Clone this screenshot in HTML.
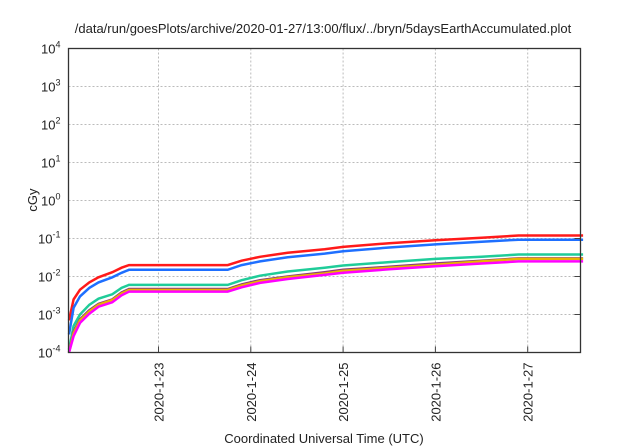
<!DOCTYPE html>
<html><head><meta charset="utf-8"><style>
body{margin:0;background:#fff}
svg{display:block;font-family:"Liberation Sans",sans-serif}
</style></head><body>
<svg id="c" width="640" height="448">
<text x="323" y="33" font-size="13" text-anchor="middle" fill="#222">/data/run/goesPlots/archive/2020-01-27/13:00/flux/../bryn/5daysEarthAccumulated.plot</text>
<text transform="translate(37,200) rotate(-90)" font-size="13" text-anchor="middle" fill="#222">cGy</text>
<text x="324" y="443" font-size="13" text-anchor="middle" fill="#222">Coordinated Universal Time (UTC)</text>
<g id="grid"></g><g id="series"></g><g id="axes"></g>
</svg>
<script>
const xTicks=[23,24,25,26,27];
const xTickLabels=["2020-1-23","2020-1-24","2020-1-25","2020-1-26","2020-1-27"];
const yTickExps=[-4,-3,-2,-1,0,1,2,3,4];
const seriesNames=["red","blue","green","purple","yellow","magenta"];
const seriesColors=["#ff1a1a","#1e6fff","#1fcc99","#8b3a7a","#e8b400","#ff00ff"];
const times=[22.03,22.08,22.15,22.25,22.35,22.5,22.6,22.68,23.75,23.9,24.1,24.4,24.8,25.0,25.5,26.0,26.5,26.9,27.6];
const sRed=[7e-4,2.5e-3,4.5e-3,7e-3,9.5e-3,1.3e-2,1.7e-2,2e-2,2e-2,2.6e-2,3.3e-2,4.2e-2,5.2e-2,6e-2,7.5e-2,9e-2,1.05e-1,1.2e-1,1.2e-1];
const sBlue=[3e-4,1.5e-3,3e-3,5e-3,7e-3,9.5e-3,1.25e-2,1.5e-2,1.5e-2,2e-2,2.5e-2,3.2e-2,4e-2,4.6e-2,5.8e-2,7e-2,8.2e-2,9.3e-2,9.3e-2];
const sGreen=[1.2e-4,5e-4,1e-3,1.8e-3,2.6e-3,3.4e-3,5e-3,6e-3,6e-3,8e-3,1.05e-2,1.35e-2,1.7e-2,1.95e-2,2.4e-2,2.9e-2,3.3e-2,3.8e-2,3.8e-2];
const sPurple=[1e-4,3.5e-4,7.5e-4,1.3e-3,1.9e-3,2.5e-3,3.8e-3,4.7e-3,4.7e-3,6.2e-3,8e-3,1e-2,1.3e-2,1.5e-2,1.8e-2,2.2e-2,2.6e-2,3e-2,3e-2];
const sYellow=[1e-4,3.2e-4,7e-4,1.2e-3,1.8e-3,2.4e-3,3.6e-3,4.4e-3,4.4e-3,5.8e-3,7.5e-3,9.5e-3,1.2e-2,1.4e-2,1.7e-2,2.05e-2,2.5e-2,2.9e-2,2.9e-2];
const sMagenta=[1e-4,2.7e-4,6e-4,1.05e-3,1.6e-3,2.1e-3,3.2e-3,4e-3,4e-3,5.2e-3,6.8e-3,8.6e-3,1.1e-2,1.25e-2,1.55e-2,1.85e-2,2.2e-2,2.5e-2,2.5e-2];
const allSeries=[sRed,sBlue,sGreen,sPurple,sYellow,sMagenta];

const L=68.5,R=580.5,T=48.5,B=352.5,X0=22.025,X1=27.572;
const xs=d=>L+(d-X0)/(X1-X0)*(R-L);
const ys=v=>B-(Math.log10(v)+4)/8*(B-T);
const NS="http://www.w3.org/2000/svg";
function mk(tag,parent){const e=document.createElementNS(NS,tag);document.getElementById(parent).appendChild(e);return e;}

xTicks.forEach((t,i)=>{
  const x=xs(t);
  const g=mk("line","grid");
  
  
  g.setAttribute("x1",x);g.setAttribute("x2",x);g.setAttribute("y1",T);g.setAttribute("y2",B);
  g.setAttribute("stroke","#bbb");g.setAttribute("stroke-dasharray","2,2");
  const tk=mk("line","axes");
  
  
  tk.setAttribute("x1",x);tk.setAttribute("x2",x);tk.setAttribute("y1",B);tk.setAttribute("y2",B-6);tk.setAttribute("stroke","#444");
  const lb=mk("text","axes");
  
  
  lb.setAttribute("transform",`translate(${x+5},${B+10}) rotate(-90)`);
  lb.setAttribute("font-size","13");lb.setAttribute("text-anchor","end");lb.setAttribute("fill","#222");
  lb.textContent=xTickLabels[i];
});
yTickExps.forEach(e=>{
  const y=ys(Math.pow(10,e));
  if(e>-4&&e<4){
    const g=mk("line","grid");
    
    
    g.setAttribute("x1",L);g.setAttribute("x2",R);g.setAttribute("y1",y);g.setAttribute("y2",y);
    g.setAttribute("stroke","#bbb");g.setAttribute("stroke-dasharray","2,2");
  }
  const lb=mk("text","axes");
  
  
  lb.setAttribute("x",L-8);lb.setAttribute("y",y+5);lb.setAttribute("font-size","13");lb.setAttribute("text-anchor","end");lb.setAttribute("fill","#222");
  lb.innerHTML=`10<tspan dy="-6" font-size="9">${e}</tspan>`;
  const tk=mk("line","axes");
  
  
  tk.setAttribute("x1",R-6);tk.setAttribute("x2",R);tk.setAttribute("y1",y);tk.setAttribute("y2",y);tk.setAttribute("stroke","#444");
});
allSeries.forEach((s,i)=>{
  const p=mk("polyline","series");
  
  
  p.setAttribute("points",s.map((v,j)=>xs(times[j]).toFixed(1)+","+ys(v).toFixed(1)).join(" "));
  p.setAttribute("fill","none");p.setAttribute("stroke",seriesColors[i]);p.setAttribute("stroke-width","2.5");
});
const fr=mk("rect","axes");


fr.setAttribute("x",L);fr.setAttribute("y",T);fr.setAttribute("width",R-L);fr.setAttribute("height",B-T);
fr.setAttribute("fill","none");fr.setAttribute("stroke","#333");fr.setAttribute("stroke-width","1.3");
</script>
</body></html>
